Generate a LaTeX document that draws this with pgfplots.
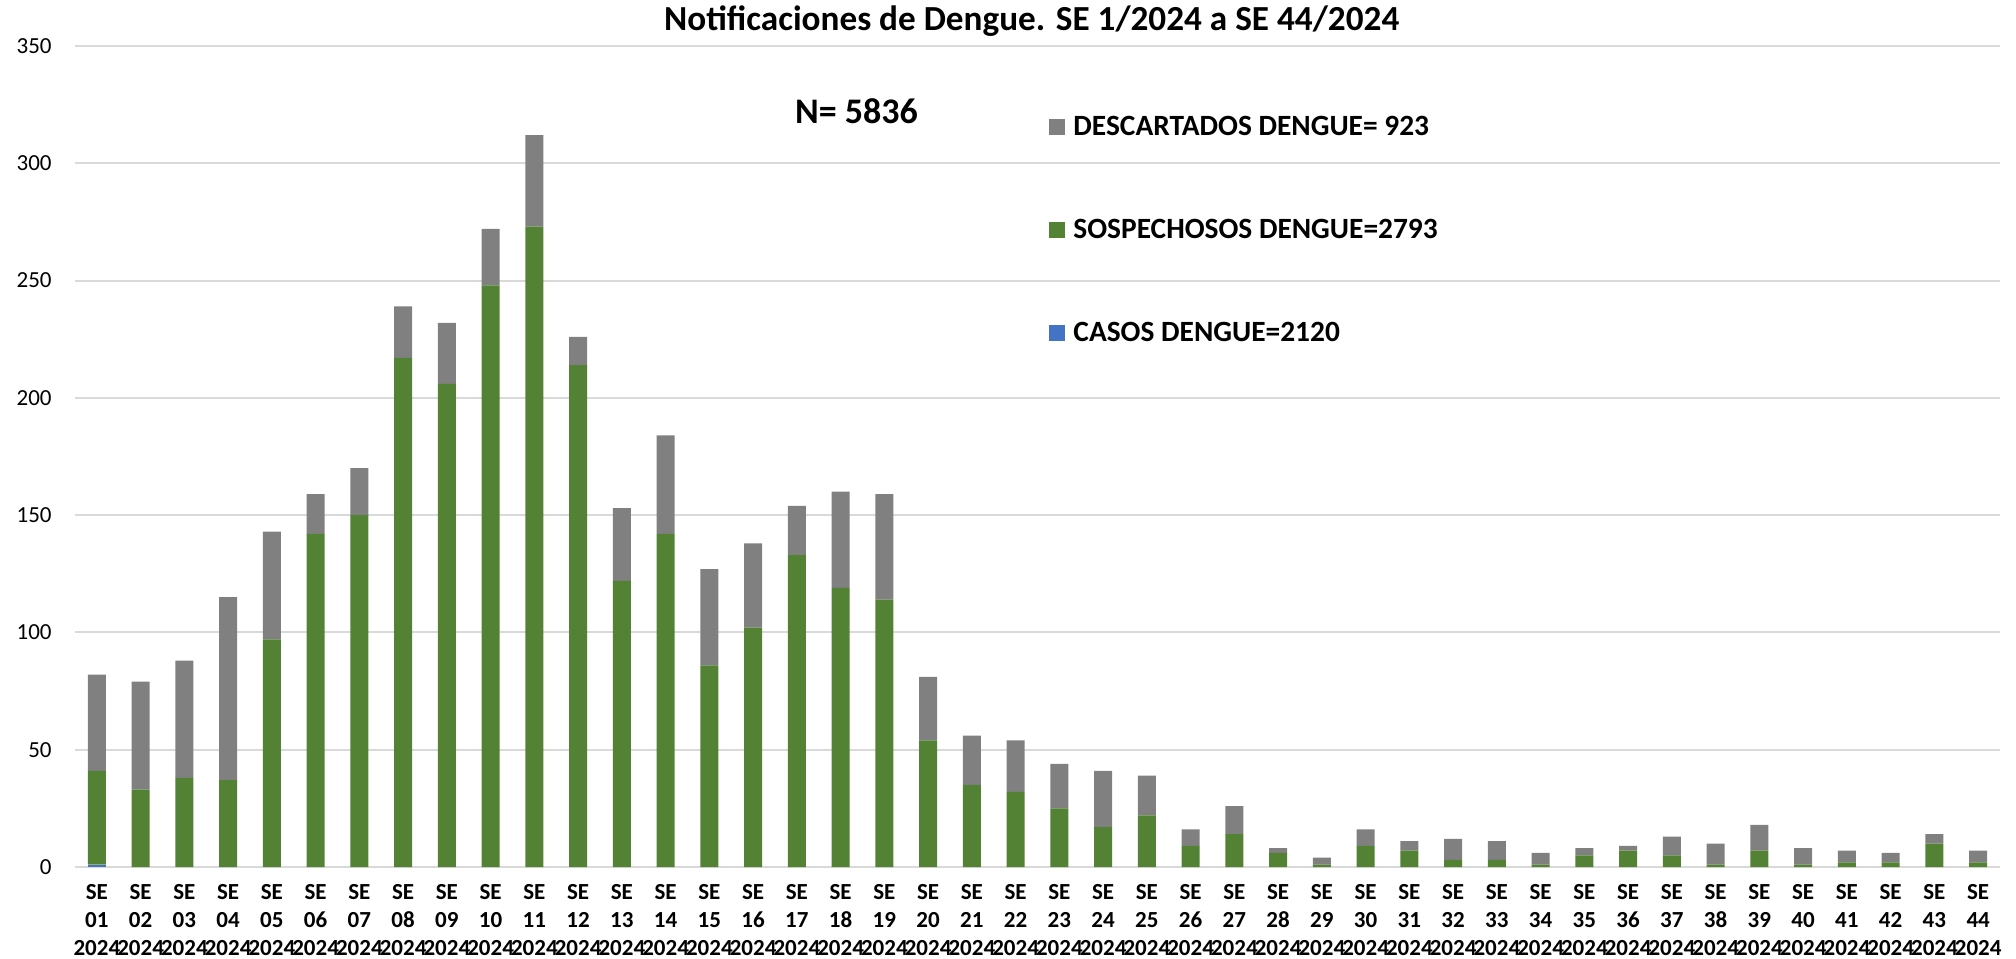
\documentclass[border=0pt]{standalone}
\usepackage{pgfplots}
\usepackage{pgfplotstable}
\pgfplotsset{compat=1.18}
\usepackage{fontspec}
\setmainfont{Carlito}
\definecolor{cgray}{HTML}{808080}
\definecolor{cgreen}{HTML}{548235}
\definecolor{cblue}{HTML}{4472C4}
\definecolor{cgrid}{HTML}{D9D9D9}
\pgfplotstableread{
x blue green gray
0 1 40 41
1 0 33 46
2 0 38 50
3 0 37 78
4 0 97 46
5 0 142 17
6 0 150 20
7 0 217 22
8 0 206 26
9 0 248 24
10 0 273 39
11 0 214 12
12 0 122 31
13 0 142 42
14 0 86 41
15 0 102 36
16 0 133 21
17 0 119 41
18 0 114 45
19 0 54 27
20 0 35 21
21 0 32 22
22 0 25 19
23 0 17 24
24 0 22 17
25 0 9 7
26 0 14 12
27 0 6 2
28 0 1 3
29 0 9 7
30 0 7 4
31 0 3 9
32 0 3 8
33 0 1 5
34 0 5 3
35 0 7 2
36 0 5 8
37 0 1 9
38 0 7 11
39 0 1 7
40 0 2 5
41 0 2 4
42 0 10 4
43 0 2 5
}\data
\begin{document}
\begin{tikzpicture}
\path[use as bounding box] (-37.5pt,-45.5pt) rectangle (970.5pt,433.5pt);
\begin{axis}[
  at={(0pt,0pt)}, anchor=south west,
  scale only axis, width=962.5pt, height=410.5pt,
  clip=false,
  ybar stacked, bar width=9pt,
  xmin=-0.5, xmax=43.5, ymin=0, ymax=350,
  ytick={0,50,...,350},
  xtick=data,
  xticklabels={{SE\\01\\2024},{SE\\02\\2024},{SE\\03\\2024},{SE\\04\\2024},{SE\\05\\2024},{SE\\06\\2024},{SE\\07\\2024},{SE\\08\\2024},{SE\\09\\2024},{SE\\10\\2024},{SE\\11\\2024},{SE\\12\\2024},{SE\\13\\2024},{SE\\14\\2024},{SE\\15\\2024},{SE\\16\\2024},{SE\\17\\2024},{SE\\18\\2024},{SE\\19\\2024},{SE\\20\\2024},{SE\\21\\2024},{SE\\22\\2024},{SE\\23\\2024},{SE\\24\\2024},{SE\\25\\2024},{SE\\26\\2024},{SE\\27\\2024},{SE\\28\\2024},{SE\\29\\2024},{SE\\30\\2024},{SE\\31\\2024},{SE\\32\\2024},{SE\\33\\2024},{SE\\34\\2024},{SE\\35\\2024},{SE\\36\\2024},{SE\\37\\2024},{SE\\38\\2024},{SE\\39\\2024},{SE\\40\\2024},{SE\\41\\2024},{SE\\42\\2024},{SE\\43\\2024},{SE\\44\\2024}},
  xticklabel style={font=\bfseries\fontsize{11.5}{14}\selectfont, align=center, inner sep=0pt, anchor=north, yshift=-8.5pt},
  yticklabel style={font=\fontsize{11.5}{13}\selectfont, inner sep=0pt, anchor=east, xshift=-11.5pt},
  /pgf/number format/assume math mode=true,
  axis line style={draw=none}, major tick length=0pt,
  ymajorgrids, grid style={cgrid, line width=1pt},
  reverse legend,
  legend cell align=left,
  legend style={at={(axis description cs:0.506,0.918)}, anchor=north west, draw=none, fill=none, inner sep=0pt,
    row sep=38.5pt, column sep=3pt, font=\bfseries\fontsize{14.7}{17}\selectfont,
    nodes={inner sep=1pt}},
  legend image code/.code={\fill[#1] (0pt,-4pt) rectangle (8pt,4pt);},
]
\addplot[fill=cblue, draw=none] table[x=x, y=blue] {\data};
\addplot[fill=cgreen, draw=none] table[x=x, y=green] {\data};
\addplot[fill=cgray, draw=none] table[x=x, y=gray] {\data};
\legend{CASOS DENGUE=2120, SOSPECHOSOS DENGUE=2793, DESCARTADOS DENGUE= 923}
\node[font=\bfseries\fontsize{17.6}{20}\selectfont] at (axis description cs:0.497,1) [yshift=12.5pt] {Notificaciones de Dengue. SE 1/2024 a SE 44/2024};
\node[font=\bfseries\fontsize{18}{21}\selectfont] at (axis description cs:0.406,0.92) {N= 5836};
\end{axis}
\end{tikzpicture}
\end{document}
